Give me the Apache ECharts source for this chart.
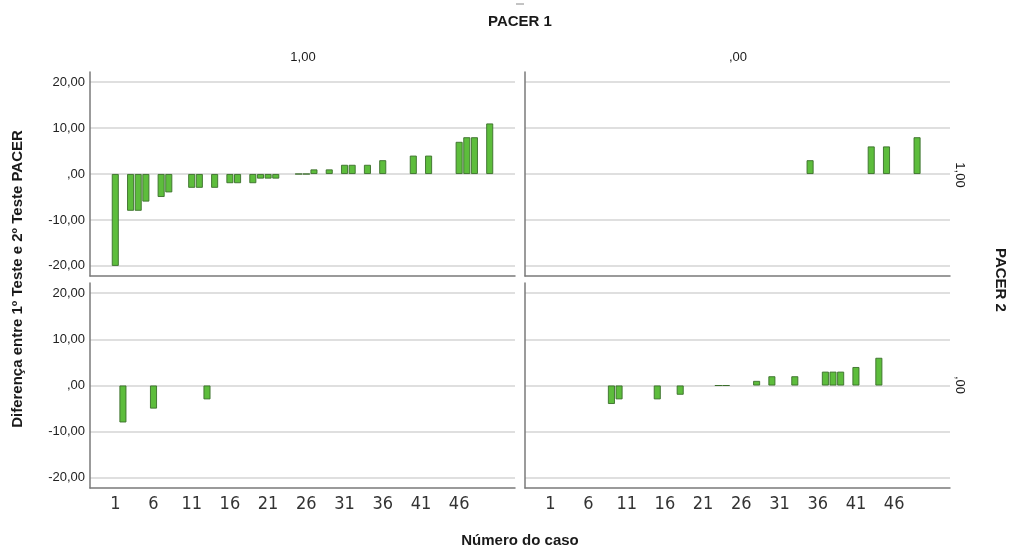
<!DOCTYPE html>
<html>
<head>
<meta charset="utf-8">
<script src="https://cdn.jsdelivr.net/npm/echarts@6/dist/echarts.min.js"></script>
<style>
html,body{margin:0;padding:0;background:#fff;}
#chart{width:1011px;height:549px;}
</style>
</head>
<body>
<div id="chart"></div>
<script>
// Panels: PACER 1 (columns) x PACER 2 (rows)
const casesTopLeft = [1,3,4,5,7,8,11,12,14,16,17,19,20,21,22,25,26,27,29,31,32,34,36,40,42,46,47,48,50];
const valuesTopLeft = [-20,-8,-8,-6,-5,-4,-3,-3,-3,-2,-2,-2,-1,-1,-1,0,0,1,1,2,2,2,3,4,4,7,8,8,11];
const casesTopRight = [35,43,45,49];
const valuesTopRight = [3,6,6,8];
const casesBottomLeft = [2,6,13];
const valuesBottomLeft = [-8,-5,-3];
const casesBottomRight = [9,10,15,18,23,24,28,30,33,37,38,39,41,44];
const valuesBottomRight = [-4,-3,-3,-2,0,0,1,2,2,3,3,3,4,6];
const xTickLabels = [1,6,11,16,21,26,31,36,41,46];
const yTickValues = [-20,-10,0,10,20];
const colLabels = ['1,00', ',00'];
const rowLabels = ['1,00', ',00'];

const FONT = '"Liberation Sans", Arial, sans-serif';
const NARROW = '"DejaVu Sans Condensed", "Liberation Sans Narrow", "Arial Narrow", "Liberation Sans", sans-serif';
const fmtY = v => {
  if (v === 0) return ',00';
  return (v < 0 ? '-' : '') + Math.abs(v) + ',00';
};

const grids = [
  {left: 90, width: 425, top: 72, height: 204},
  {left: 525, width: 425, top: 72, height: 204},
  {left: 90, width: 425, top: 283, height: 205},
  {left: 525, width: 425, top: 283, height: 205}
];

const panelData = [
  [casesTopLeft, valuesTopLeft],
  [casesTopRight, valuesTopRight],
  [casesBottomLeft, valuesBottomLeft],
  [casesBottomRight, valuesBottomRight]
];

const xAxes = grids.map((g, i) => ({
  type: 'value', gridIndex: i, min: -2.31, max: 53.31,
  axisLine: {show: true, onZero: false, lineStyle: {color: '#7a7a7a', width: 1.5}},
  axisTick: {show: false, customValues: xTickLabels},
  splitLine: {show: false},
  axisLabel: {
    show: i >= 2, customValues: xTickLabels, margin: 7,
    fontFamily: NARROW, fontSize: 18, color: '#333'
  }
}));

const yAxes = grids.map((g, i) => ({
  type: 'value', gridIndex: i, min: -22.2, max: 22.2,
  axisLine: {show: true, onZero: false, lineStyle: {color: '#7a7a7a', width: 1.5}},
  axisTick: {show: false, customValues: yTickValues},
  splitLine: {show: true, lineStyle: {color: '#d4d4d4', width: 1.5}},
  axisLabel: {
    show: i % 2 === 0, customValues: yTickValues, margin: 5,
    fontFamily: FONT, fontSize: 13, color: '#222', formatter: fmtY
  }
}));

const series = panelData.map((p, i) => ({
  type: 'bar', xAxisIndex: i, yAxisIndex: i,
  barWidth: 7,
  data: p[0].map((c, k) => [c, p[1][k]]),
  itemStyle: {color: '#5dbd3c', borderColor: '#3a6e2a', borderWidth: 0.9},
  emphasis: {disabled: true},
  silent: true
}));

const txt = (text, x, y, opts) => Object.assign({
  type: 'text', x: x, y: y,
  style: Object.assign({text: text, fill: '#1a1a1a', font: '13px ' + FONT, align: 'center', verticalAlign: 'middle'}, (opts && opts.style) || {})
}, opts && opts.rotation !== undefined ? {rotation: opts.rotation} : {});

const graphic = [
  txt('PACER 1', 520, 22, {style: {font: 'bold 15px ' + FONT}}),
  txt(colLabels[0], 303, 57),
  txt(colLabels[1], 738, 57),
  txt('Número do caso', 520, 541, {style: {font: 'bold 15px ' + FONT}}),
  txt('Diferença entre 1º Teste e 2º Teste PACER', 18, 279, {rotation: Math.PI / 2, style: {font: 'bold 15px ' + FONT}}),
  txt('PACER 2', 1000, 280, {rotation: -Math.PI / 2, style: {font: 'bold 15px ' + FONT}}),
  txt(rowLabels[0], 960, 175, {rotation: -Math.PI / 2}),
  txt(rowLabels[1], 960, 385, {rotation: -Math.PI / 2}),
  {type: 'line', shape: {x1: 516, y1: 4, x2: 524, y2: 4}, style: {stroke: '#888', lineWidth: 1}}
];

const chart = echarts.init(document.getElementById('chart'), null, {renderer: 'canvas'});
chart.setOption({
  animation: false,
  backgroundColor: '#ffffff',
  grid: grids,
  xAxis: xAxes,
  yAxis: yAxes,
  series: series,
  graphic: graphic
});
</script>
</body>
</html>
